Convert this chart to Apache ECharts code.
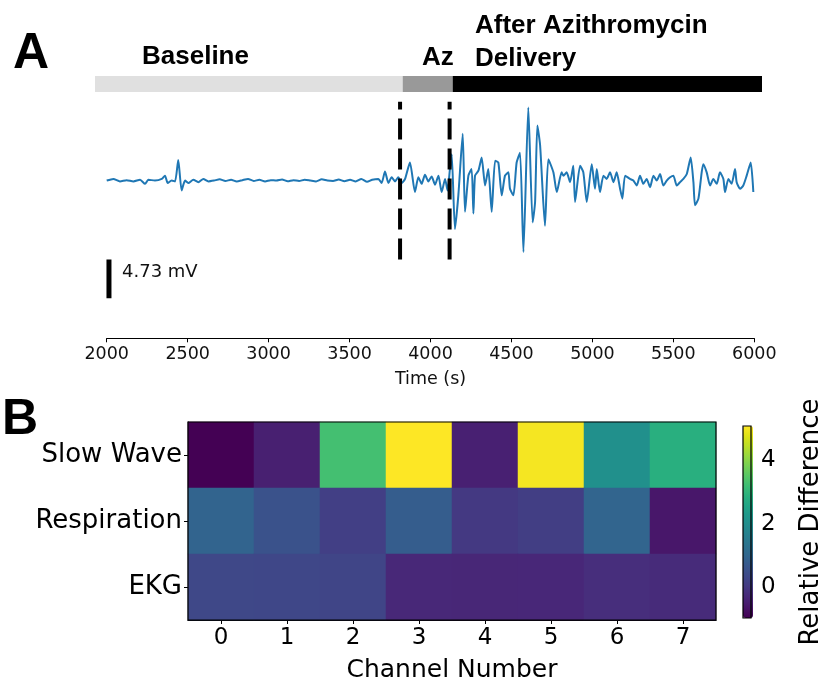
<!DOCTYPE html>
<html>
<head>
<meta charset="utf-8">
<script src="https://cdn.jsdelivr.net/npm/echarts@6/dist/echarts.min.js"></script>
<style>
html,body{margin:0;padding:0;background:#fff;}
#chart{width:825px;height:685px;}
</style>
</head>
<body>
<div id="chart"></div>
<script>
// ---------- Panel A data ----------
const timeS = [
  2000,2041,2082,2123,2165,2206,2237,2257,2298,2340,2360,2377,2401,2422,2442,2463,2484,2504,2535,2566,2597,2628,
  2663,2698,2733,2768,2803,2838,2873,2908,2943,2978,3013,3048,3083,3118,3153,3188,3223,3258,3293,3328,3363,3398,
  3433,3468,3503,3538,3573,3608,3640,3678,3698,3719,3740,3760,3781,3801,3822,3843,3873,3904,3925,3945,3966,3987,
  4007,4028,4049,4069,4090,4105,4121,4131,4151,4172,4199,4213,4234,4254,4265,4275,4296,4316,4337,4357,4378,4399,
  4419,4440,4460,4481,4491,4512,4532,4553,4574,4604,4631,4646,4660,4677,4707,4728,4759,4780,4810,4821,4841,4862,
  4882,4893,4924,4944,4965,4996,5016,5027,5047,5068,5088,5109,5130,5150,5171,5185,5202,5232,5253,5274,5294,5315,
  5335,5356,5377,5397,5418,5438,5459,5480,5500,5521,5541,5562,5583,5607,5624,5634,5655,5675,5685,5706,5727,5747,
  5768,5788,5809,5819,5840,5860,5881,5891,5912,5932,5953,5978,5994
];
const signalMV = [
  0,0.2,-0.1,0.05,-0.1,0.1,-0.4,0.1,0,0.2,0.6,-0.3,0,-0.1,2.5,-1.2,0,-0.3,0.1,-0.2,0.2,-0.1,
  0.0,0.15,-0.05,0.1,-0.1,0.05,0.2,-0.05,0.1,-0.1,0.05,0.0,0.12,-0.08,0.05,-0.05,0.1,0.0,-0.1,0.15,0.0,-0.05,
  0.12,-0.08,0.1,-0.1,0.2,-0.15,0.1,0.2,-0.3,1.1,-0.3,0.4,-0.1,0.4,-0.3,0.2,2.2,-1.4,0.4,-0.4,0.7,-0.1,
  0.5,-0.5,0.6,-1.4,0.2,-1.2,1.6,3.2,-5.9,-1.8,5.7,-3.8,0.6,1.4,-4.0,0.6,1.2,2.8,-0.6,1.4,-3.8,2.4,
  2.2,-1.8,0.6,1.0,-1.0,-1.8,2.2,3.4,-8.7,8.9,-5.1,-2.6,6.7,4.3,-5.5,2.6,1.0,-1.4,1.0,0.6,1.0,-0.2,
  1.8,-2.6,1.8,1.0,-2.6,2.0,-1.0,1.4,-1.4,0.6,0.2,1.0,-0.2,1.0,-1.0,-2.2,0.6,0.2,0.0,-0.6,0.6,-0.4,
  0.2,-0.8,0.6,0.0,0.8,-0.6,0.0,0.4,0.6,-0.6,-0.2,0.2,0.8,2.8,-0.2,-3.0,-2.2,1.0,2.0,1.0,-0.6,0.2,
  -0.4,1.0,0.2,-1.4,0.2,-0.4,1.4,-0.2,-1.0,-0.6,0.6,2.2,-1.4
];
const timeTicks = [2000, 6000, 500];          // min, max, step
const eventTimes = [3812, 4118];               // dashed markers (s)
const eventSpanMV = [-9.6, 9.6];
const scaleBarTime = 2014;
const scaleBarBottomMV = -14.33;
const scaleBarMV = 4.73;
const stageNames = ['Baseline', 'Az', 'After Azithromycin\nDelivery'];
const stageStart = [1926, 3828, 4137];
const stageEnd = [3828, 4137, 6049];

// ---------- Panel B data ----------
const channels = ['0','1','2','3','4','5','6','7'];
const signalTypes = ['Slow Wave','Respiration','EKG'];
const slowWave   = [-0.98, -0.46, 3.26, 5.08, -0.45, 5.0, 2.05, 2.85];
const respiration= [0.93, 0.54, 0.14, 0.78, 0.02, 0.11, 0.96, -0.62];
const ekg        = [0.32, 0.29, 0.26, -0.31, -0.33, -0.32, -0.19, -0.25];
const colorRange = [-0.98, 5.08];
const colorTicks = [0, 2, 4];

// ---------- styles ----------
const stageColors = ['#e0e0e0', '#999999', '#000000'];
const viridis = ['#440154','#481568','#482677','#453781','#3F4788','#39558C','#32648E','#2D718E','#287D8E','#238A8D',
                 '#1F968B','#20A386','#29AF7F','#3CBC75','#56C667','#75D054','#95D840','#BADE28','#DDE318','#FDE725'];
const MPL = '"DejaVu Sans", sans-serif';
const BOLD = '"Liberation Sans", Arial, sans-serif';

const signalData = timeS.map((t, i) => [t, signalMV[i]]);
const heatRows = [slowWave, respiration, ekg];
const heatData = [];
heatRows.forEach((row, r) => row.forEach((v, c) => heatData.push([c, r, v])));
const stageData = stageStart.map((s, i) => [s, stageEnd[i], i]);

const chart = echarts.init(document.getElementById('chart'), null, {renderer: 'canvas'});

const series = [
  {
    type: 'line', xAxisIndex: 0, yAxisIndex: 0, data: signalData,
    showSymbol: false, symbol: 'none', animation: false, smooth: 0.2,
    lineStyle: {color: '#1f77b4', width: 2}, z: 3
  }
];
eventTimes.forEach(t => series.push({
  type: 'line', xAxisIndex: 0, yAxisIndex: 0, symbol: 'none', animation: false,
  data: [[t, eventSpanMV[0]], [t, eventSpanMV[1]]],
  lineStyle: {color: '#000', width: 4, type: [21, 9]}, z: 4
}));
series.push({
  type: 'line', xAxisIndex: 0, yAxisIndex: 0, symbol: 'none', animation: false,
  data: [[scaleBarTime, scaleBarBottomMV], [scaleBarTime, scaleBarBottomMV + scaleBarMV]],
  lineStyle: {color: '#000', width: 5, cap: 'butt'}, z: 4
});
series.push({
  type: 'custom', xAxisIndex: 1, yAxisIndex: 1, data: stageData, animation: false,
  renderItem: function (params, api) {
    const a = api.coord([api.value(0), 1]);
    const b = api.coord([api.value(1), 0]);
    return {type: 'rect', shape: {x: a[0], y: a[1], width: b[0] - a[0], height: b[1] - a[1]},
            style: {fill: stageColors[api.value(2)]}};
  }
});
const heatIndex = series.length;
series.push({
  type: 'heatmap', xAxisIndex: 2, yAxisIndex: 2, data: heatData, animation: false,
  itemStyle: {borderWidth: 0}, emphasis: {disabled: true}
});

const option = {
  backgroundColor: '#fff',
  animation: false,
  grid: [
    {left: 106.7, top: 101.7, width: 647.6, height: 236.6},
    {left: 95, top: 76, width: 667, height: 16},
    {left: 188, top: 422, width: 528, height: 198, show: true, borderColor: '#000', borderWidth: 1.2, backgroundColor: 'transparent', z: 10},
    {left: 743, top: 426, width: 10, height: 192, show: true, borderColor: '#000', borderWidth: 1.2, backgroundColor: 'transparent', z: 10}
  ],
  xAxis: [
    {gridIndex: 0, type: 'value', min: timeTicks[0], max: timeTicks[1], interval: timeTicks[2],
     axisLine: {show: true, onZero: false, lineStyle: {color: '#000', width: 1}},
     axisTick: {show: true, inside: false, length: 4, lineStyle: {color: '#000'}},
     axisLabel: {fontFamily: MPL, fontSize: 17.5, color: '#111', margin: 7, formatter: v => String(v)},
     splitLine: {show: false},
     name: 'Time (s)', nameLocation: 'middle', nameGap: 32,
     nameTextStyle: {fontFamily: MPL, fontSize: 17.5, color: '#111'}},
    {gridIndex: 1, type: 'value', min: stageStart[0], max: stageEnd[stageEnd.length - 1], show: false},
    {gridIndex: 2, type: 'category', data: channels,
     axisLine: {show: true, lineStyle: {color: '#000', width: 1.2}},
     axisTick: {show: true, alignWithLabel: true, length: 4, lineStyle: {color: '#000'}},
     axisLabel: {fontFamily: MPL, fontSize: 23, color: '#000', margin: 7},
     splitLine: {show: false},
     name: 'Channel Number', nameLocation: 'middle', nameGap: 38,
     nameTextStyle: {fontFamily: MPL, fontSize: 25, color: '#000'}},
    {gridIndex: 3, type: 'value', min: 0, max: 1, show: false}
  ],
  yAxis: [
    {gridIndex: 0, type: 'value', min: -19.2, max: 9.6, show: false},
    {gridIndex: 1, type: 'value', min: 0, max: 1, show: false},
    {gridIndex: 2, type: 'category', data: signalTypes, inverse: true,
     axisLine: {show: true, lineStyle: {color: '#000', width: 1.2}},
     axisTick: {show: true, alignWithLabel: true, length: 4, lineStyle: {color: '#000'}},
     axisLabel: {fontFamily: MPL, fontSize: 26, color: '#000', margin: 6},
     splitLine: {show: false}},
    {gridIndex: 3, type: 'value', position: 'right', min: colorRange[0], max: colorRange[1],
     axisLine: {show: false},
     axisTick: {show: true, length: 5, lineStyle: {color: '#000'}, customValues: colorTicks},
     axisLabel: {fontFamily: MPL, fontSize: 23, color: '#000', margin: 10, customValues: colorTicks},
     splitLine: {show: false},
     name: 'Relative Difference', nameLocation: 'middle', nameGap: 47,
     nameTextStyle: {fontFamily: MPL, fontSize: 26, color: '#000'}}
  ],
  visualMap: [{
    type: 'continuous', seriesIndex: heatIndex, dimension: 2,
    min: colorRange[0], max: colorRange[1],
    inRange: {color: viridis},
    left: 743, top: 426, itemWidth: 10, itemHeight: 192,
    calculable: false, hoverLink: false, padding: 0, text: null, showLabel: false,
    orient: 'vertical'
  }],
  graphic: [
    {type: 'text', x: 13, y: 54, style: {text: 'A', font: 'bold 50px ' + BOLD, fill: '#000', verticalAlign: 'middle', align: 'left'}},
    {type: 'text', x: 2, y: 420, style: {text: 'B', font: 'bold 50px ' + BOLD, fill: '#000', verticalAlign: 'middle', align: 'left'}},
    {type: 'text', x: 142, y: 57, style: {text: stageNames[0], font: 'bold 26px ' + BOLD, fill: '#000', verticalAlign: 'middle', align: 'left'}},
    {type: 'text', x: 422, y: 58, style: {text: stageNames[1], font: 'bold 26px ' + BOLD, fill: '#000', verticalAlign: 'middle', align: 'left'}},
    {type: 'text', x: 475, y: 42, style: {text: stageNames[2], font: 'bold 26px ' + BOLD, fill: '#000', verticalAlign: 'middle', align: 'left', lineHeight: 33}},
    {type: 'text', x: 122, y: 272, style: {text: scaleBarMV.toFixed(2) + ' mV', font: '18px ' + MPL, fill: '#111', verticalAlign: 'middle', align: 'left'}}
  ],
  series: series
};
chart.setOption(option);
</script>
</body>
</html>
